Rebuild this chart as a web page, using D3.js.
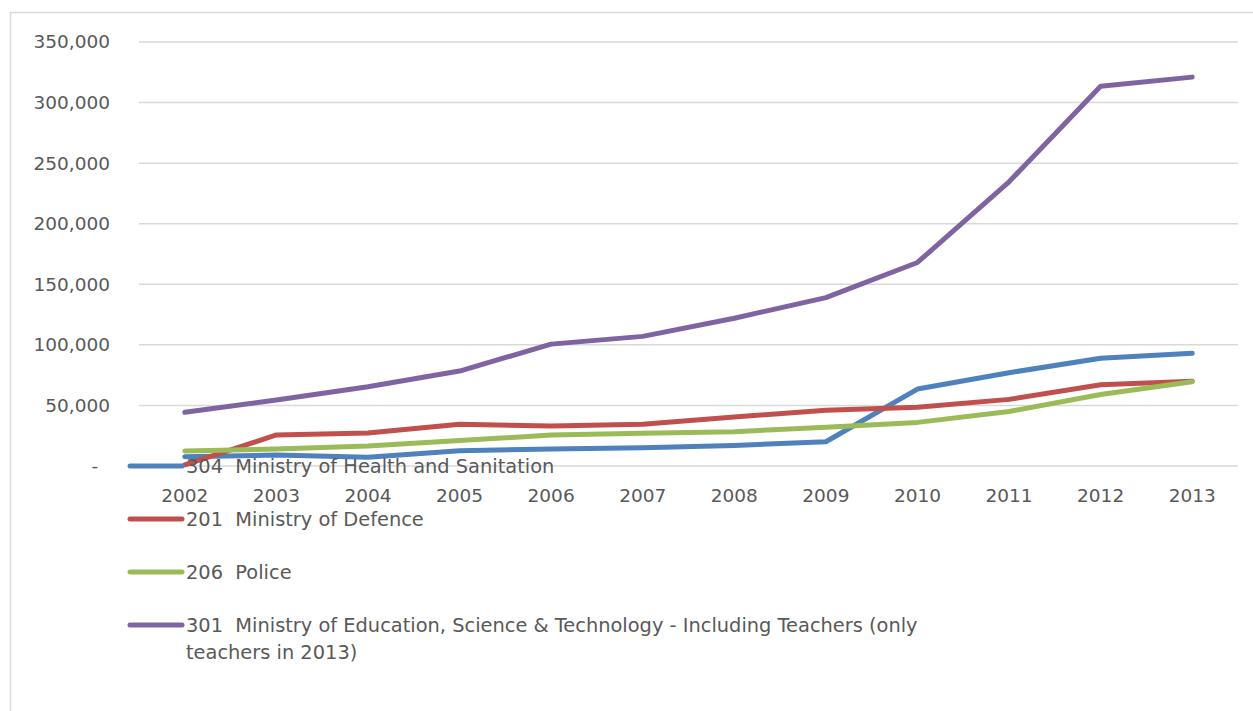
<!DOCTYPE html>
<html lang="en">
<head>
    <meta charset="UTF-8">
    <title>Staff by ministry</title>
    <script src="https://d3js.org/d3.v7.min.js"></script>
    <style>
        body { margin: 0; background: #fff; }
        text { font-family: "DejaVu Sans", sans-serif; fill: #595959; white-space: pre; }
        .grid line { stroke: #d9d9d9; stroke-width: 1.5px; }
        .series { fill: none; stroke-width: 5px; stroke-linejoin: round; stroke-linecap: round; }
    </style>
</head>
<body>
<script>
    // chart data
    var years = ["2002", "2003", "2004", "2005", "2006", "2007", "2008", "2009", "2010", "2011", "2012", "2013"];
    var health = [7700, 9000, 7200, 12600, 14000, 15000, 17000, 20000, 63500, 77000, 89000, 93000];
    var defence = [1000, 25600, 27200, 34500, 33000, 34500, 40500, 46000, 48500, 55000, 67000, 70000];
    var police = [12400, 14000, 16500, 21000, 25500, 27000, 28300, 32000, 36000, 45000, 59000, 69500];
    var education = [44300, 54500, 65400, 78400, 100600, 107000, 122000, 139000, 168000, 234600, 313500, 321000];
    var yTicks = [0, 50000, 100000, 150000, 200000, 250000, 300000, 350000];

    var series = [
        { name: "304  Ministry of Health and Sanitation", values: health, color: "#4f81bd" },
        { name: "201  Ministry of Defence", values: defence, color: "#c0504d" },
        { name: "206  Police", values: police, color: "#9bbb59" },
        { name: "301  Ministry of Education, Science & Technology - Including Teachers (only", name2: "teachers in 2013)", values: education, color: "#8064a2" }
    ];

    var W = 1253, H = 711;
    var svg = d3.select("body").append("svg").attr("width", W).attr("height", H);

    // outer frame
    svg.append("rect").attr("x", 10.5).attr("y", 12.5).attr("width", W).attr("height", H)
        .attr("fill", "none").attr("stroke", "#d9d9d9").attr("stroke-width", 1.5);

    var plotLeft = 139, plotRight = 1238, plotTop = 42, plotBottom = 466;

    var x = d3.scaleBand().domain(years).range([plotLeft, plotRight]);
    var y = d3.scaleLinear().domain([0, 350000]).range([plotBottom, plotTop]);

    // gridlines
    svg.append("g").attr("class", "grid")
        .selectAll("line").data(yTicks).enter().append("line")
        .attr("x1", plotLeft).attr("x2", plotRight)
        .attr("y1", function (d) { return y(d); })
        .attr("y2", function (d) { return y(d); });

    // y axis labels
    var fmt = d3.format(",");
    svg.append("g").selectAll("text").data(yTicks).enter().append("text")
        .attr("x", 110).attr("y", function (d) { return y(d); })
        .attr("dy", "0.35em").attr("text-anchor", "end")
        .style("font-size", "18.5px")
        .text(function (d) { return d === 0 ? "-  " : fmt(d); });

    // x axis labels
    svg.append("g").selectAll("text").data(years).enter().append("text")
        .attr("x", function (d) { return x(d) + x.bandwidth() / 2; })
        .attr("y", 496).attr("dy", "0.35em").attr("text-anchor", "middle")
        .style("font-size", "18.5px")
        .text(function (d) { return d; });

    // lines
    var line = d3.line()
        .x(function (d, i) { return x(years[i]) + x.bandwidth() / 2; })
        .y(function (d) { return y(d); });

    svg.append("g").selectAll("path").data(series).enter().append("path")
        .attr("class", "series")
        .attr("stroke", function (d) { return d.color; })
        .attr("d", function (d) { return line(d.values); });

    // legend (overlaps the plot, like the original)
    var legend = svg.append("g").selectAll("g").data(series).enter().append("g")
        .attr("transform", function (d, i) { return "translate(130," + (466 + i * 53) + ")"; });

    legend.append("line")
        .attr("x1", 0).attr("x2", 52).attr("y1", 0).attr("y2", 0)
        .attr("stroke", function (d) { return d.color; })
        .attr("stroke-width", 5).attr("stroke-linecap", "round");

    var lt = legend.append("text")
        .attr("x", 56).attr("y", 0).attr("dy", "0.35em")
        .style("font-size", "19.4px");
    lt.append("tspan").text(function (d) { return d.name; });
    lt.filter(function (d) { return d.name2; }).append("tspan")
        .attr("x", 56).attr("dy", 27)
        .text(function (d) { return d.name2; });
</script>
</body>
</html>
